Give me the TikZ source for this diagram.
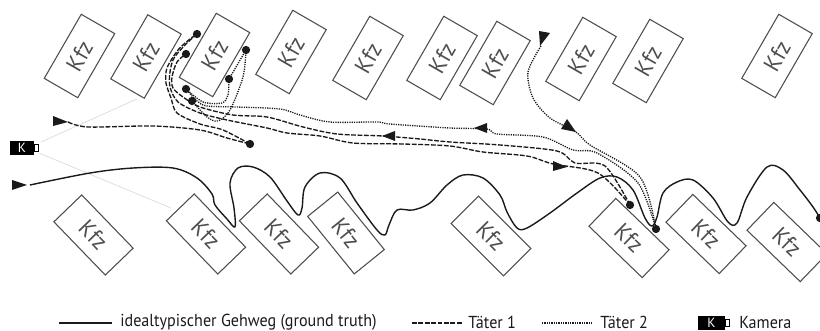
\documentclass[tikz,border=0pt]{standalone}
\usepackage{fontspec}
\setmainfont{PT Sans}
\newfontfamily\narrowfont[FakeStretch=0.93]{PT Sans}
\definecolor{carcol}{HTML}{4E4E4E}
\definecolor{inkcol}{HTML}{1A1A1A}
\tikzset{
  kfz/.style={draw=carcol,line width=0.8pt,text=carcol,minimum width=55.5pt,minimum height=29pt,inner sep=0pt,font=\narrowfont\fontsize{17.5}{19}\selectfont,fill=white},
  gtpath/.style={draw=inkcol,line width=1.05pt,line join=round},
  t1path/.style={draw=inkcol,line width=1pt,dash pattern=on 3.6pt off 1.2pt},
  t2path/.style={draw=inkcol,line width=1pt,dash pattern=on 0.9pt off 0.85pt},
  dotnode/.style={circle,fill=inkcol,inner sep=0pt,minimum size=6.2pt},
  tri/.style={fill=inkcol},
  sight/.style={draw=black!13,line width=0.6pt},
  legendtext/.style={anchor=west,inner sep=0pt,text=inkcol,font=\narrowfont\fontsize{13}{14}\selectfont},
  battery/.style={fill=black,inner sep=0pt,text=white,font=\fontsize{10}{10}\selectfont},
  terminal/.style={draw=black,fill=white,line width=0.7pt,inner sep=0pt,minimum width=2.8pt,minimum height=4.8pt}
}
\begin{document}
\begin{tikzpicture}[x=0.75pt,y=-0.75pt]
\useasboundingbox (0,0) rectangle (820,331);
% sight lines behind everything
\coordinate (s1) at (137,99);
\coordinate (s2) at (171,208);
\coordinate (c1) at (41,142);
\coordinate (c2) at (39,153);
\draw[sight] (c1) -- (s1);
\draw[sight] (c2) -- (s2);
% cars top row
\foreach \n/\x/\y in {a/79.5/56,b/146/56.5,c/214.5/55,d/291/52,e/368/58,f/442/58,g/495/63,h/581/59,i/648/61,j/777/56}
  \node[kfz,rotate=60] (car\n) at (\x,\y) {Kfz};
% cars bottom row
\foreach \n/\x/\y/\r in {k/93.5/235/-46,l/206/234/-46,m/279/234/-46,n/346/233/-51,o/491/236/-45,p/629/238/-44,q/706/234/-44,r/787/242/-44}
  \node[kfz,rotate=\r] (car\n) at (\x,\y) {Kfz};
% dots
\node[dotnode] (d1) at (250,144) {};
\node[dotnode] (d2) at (197,34) {};
\node[dotnode] (d3) at (186,54) {};
\node[dotnode] (d4) at (186,89) {};
\node[dotnode] (d5) at (192,101) {};
\node[dotnode] (d6) at (229,79) {};
\node[dotnode] (d7) at (246,50) {};
\node[dotnode] (d8) at (630,205) {};
\node[dotnode] (d9) at (656,229) {};
\node[dotnode] (d10) at (820,218) {};
% start coordinates
\coordinate (gs) at (30,185);
\coordinate (t1s) at (68,122);
\coordinate (t2s) at (541,46);
% ground truth
\draw[gtpath] plot[smooth,tension=0.55] coordinates {(gs) (90,173) (133,168) (173,168) (197,178) (212,194) (215,205) (227,219) (235,227) (234,208) (230,183) (238,168) (253,167) (270,177) (287,201) (298,215) (302,208) (305,187) (320,173) (340,178) (357,203) (377,230) (385,235) (389,225) (397,210) (413,210) (430,203) (447,185) (463,175) (483,178) (500,195) (507,212) (517,228) (527,228) (550,213) (577,193) (600,178) (617,177) (633,190) (645,218) (652,226) (657,217) (663,193) (677,182) (693,180) (713,198) (728,222) (737,223) (747,197) (767,167) (783,170) (800,190) (813,207) (d10)};
% Taeter 1
\draw[t1path] plot[smooth,tension=0.5] coordinates {(t1s) (88,127) (153,126) (200,130) (227,138) (d1)};
\draw[t1path] plot[smooth,tension=0.5] coordinates {(d1) (223,130) (200,124) (177,113) (171,98) (166,83) (167,68) (178,50) (190,39) (d2)};
\draw[t1path] plot[smooth,tension=0.5] coordinates {(d2) (186,44) (174,58) (170,72) (170,87) (178,102) (200,113) (227,120) (267,128) (287,133) (320,136) (353,143) (403,144) (450,146) (483,152) (527,156) (553,164) (598,173) (d8)};
\draw[t1path] plot[smooth,tension=0.5] coordinates {(d8) (605,166) (575,163) (557,151) (500,145) (450,142) (420,139) (383,136) (337,134) (303,127) (267,117) (233,115) (200,107) (183,97) (173,88) (172,77) (177,62) (d3)};
% Taeter 2
\draw[t2path] plot[smooth,tension=0.5] coordinates {(t2s) (528,72) (533,98) (550,118) (576,132) (590,145) (640,177) (d9)};
\draw[t2path] plot[smooth,tension=0.5] coordinates {(d9) (638,183) (597,153) (573,150) (543,137) (497,134) (487,129) (450,128) (390,124) (377,122) (330,122) (300,115) (280,109) (237,107) (207,106) (197,101) (d4)};
\draw[t2path] plot[smooth,tension=0.5] coordinates {(d4) (203,102) (222,103) (228,95) (d6)};
\draw[t2path] (d6) -- (d7);
\draw[t2path] plot[smooth,tension=0.5] coordinates {(d7) (243,77) (230,110) (218,121) (207,117) (d5)};
% triangles
\fill[tri] (12,180) -- (27,185) -- (12,190) -- cycle;
\fill[tri] (53,116) -- (68,122) -- (53,126) -- cycle;
\fill[tri] (539,31) -- (550,33) -- (540,46) -- cycle;
\fill[tri] (567,119) -- (576,132) -- (561,129) -- cycle;
\fill[tri] (474,128) -- (487,123) -- (487,133) -- cycle;
\fill[tri] (382,136) -- (395,131) -- (395,141) -- cycle;
\fill[tri] (553,161) -- (567,167) -- (553,171) -- cycle;
% camera
\node[battery,minimum width=18pt,minimum height=10.5pt] (cam) at (22,148) {K};
\node[terminal] (camt) at (36.5,148) {};
% legend
\coordinate (la) at (59,323); \coordinate (lb) at (112,323);
\coordinate (lc) at (412,323); \coordinate (ld) at (462,323);
\coordinate (le) at (542,323); \coordinate (lf) at (593,323);
\draw[gtpath] (la) -- (lb);
\draw[t1path] (lc) -- (ld);
\draw[t2path] (le) -- (lf);
\node[legendtext] (l1) at (120,322.5) {idealtypischer Gehweg (ground truth)};
\node[legendtext] (l2) at (468,322.5) {Täter 1};
\node[legendtext] (l3) at (600,322.5) {Täter 2};
\node[legendtext] (l4) at (739,322.5) {Kamera};
\node[battery,minimum width=20.5pt,minimum height=10.5pt] (lcam) at (711.5,323) {K};
\node[terminal] (lcamt) at (727.5,323) {};
\end{tikzpicture}
\end{document}
